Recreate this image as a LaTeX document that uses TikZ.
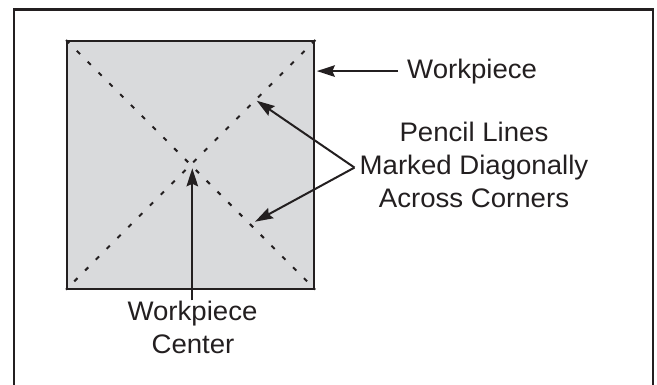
\documentclass[tikz,border=0pt]{standalone}
\usepackage{fontspec}
\setmainfont{Liberation Sans}[FakeStretch=1.03]
\usetikzlibrary{arrows.meta,calc}
\definecolor{wpgray}{HTML}{D9DADC}
\definecolor{ink}{HTML}{231F20}
\begin{document}
\begin{tikzpicture}[x=1pt,y=-1pt,
  lbl/.style={inner sep=0pt,font=\fontsize{26.8}{32}\selectfont,text=ink},
  pointer/.style={draw=ink,line width=2pt,-{Stealth[length=18pt,width=11.5pt,inset=2.5pt]}},
  pencil/.style={draw=ink,line width=2pt,dash pattern=on 4.5pt off 10.8pt},
  frame/.style={draw=ink,line width=2.6pt}]
\useasboundingbox (0,0) rectangle (657,384);
% outer frame (open at the bottom edge of the picture)
\draw[frame] (14,386) -- (14,9.5) -- (653,9.5) -- (653,386);
% workpiece
\node[draw=ink,fill=wpgray,line width=2pt,minimum width=247.3pt,minimum height=247.5pt,inner sep=0pt] (wp) at (190.7,164.8) {};
% pencil lines
\draw[pencil] (wp.north west) -- (wp.south east);
\draw[pencil] (wp.north east) -- (wp.south west);
% labels
\node[lbl,anchor=base west] (wlab) at (407,78) {Workpiece};
\node[lbl,anchor=base] (pl1) at (474,141) {Pencil Lines};
\node[lbl,anchor=base] (pl2) at (474,174.5) {Marked Diagonally};
\node[lbl,anchor=base] (pl3) at (474,207) {Across Corners};
\node[lbl,anchor=base] (wc1) at (192.5,320) {Workpiece};
\node[lbl,anchor=base] (wc2) at (193,353) {Center};
% connector points
\coordinate (vx) at ([xshift=-5pt]pl2.west);
\coordinate (tipA) at (256.7,100.7);
\coordinate (tipB) at (255,221.7);
% arrows
\draw[pointer] ([xshift=-9pt]wlab.west) -- ([xshift=1.5pt]wp.east |- wlab.west);
\draw[pointer] (vx) -- (tipA);
\draw[pointer] (vx) -- (tipB);
\draw[pointer,shorten >=3.5pt] ([xshift=-0.2pt]wc1.north) -- ([xshift=-0.2pt]wc1.north |- wp.center);
\end{tikzpicture}
\end{document}
